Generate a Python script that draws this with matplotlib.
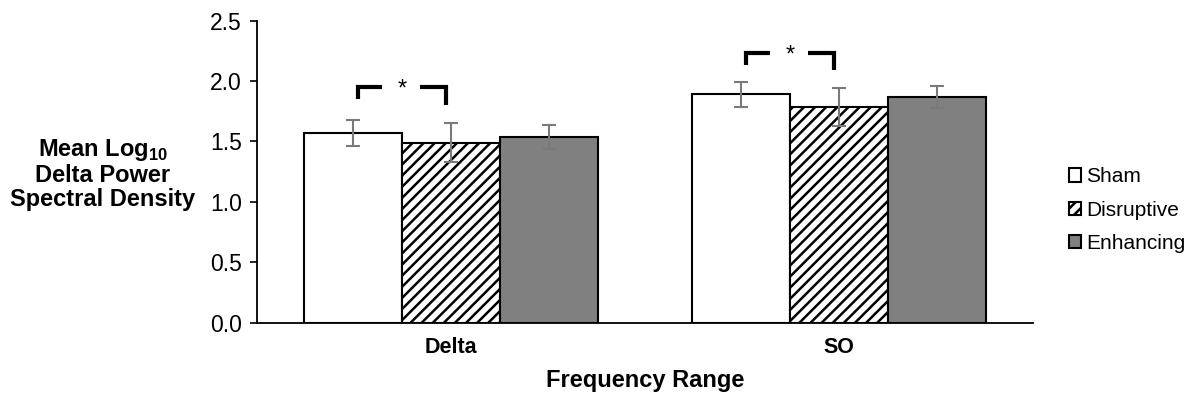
import numpy as np
import matplotlib.pyplot as plt

plt.rcParams['font.family'] = ['Liberation Sans', 'DejaVu Sans']
plt.rcParams['mathtext.fontset'] = 'custom'
plt.rcParams['mathtext.rm'] = 'Liberation Sans'
plt.rcParams['mathtext.bf'] = 'Liberation Sans:bold'
plt.rcParams['hatch.linewidth'] = 1.8
plt.rcParams['hatch.color'] = '#555555'

## data
categories = ['Delta', 'SO']
conditions = ['Sham', 'Disruptive', 'Enhancing']
sham = [1.57, 1.89]
disruptive = [1.49, 1.785]
enhancing = [1.54, 1.87]
sham_err = [0.11, 0.105]
disruptive_err = [0.16, 0.16]
enhancing_err = [0.10, 0.09]
# significance bracket tops (Sham vs Disruptive)
sig_top = [1.95, 2.235]

fig = plt.figure(figsize=(11.96, 4.0), dpi=100)
ax = fig.add_axes([257/1196, 1-322.7/400, (1033-257)/1196, (322.7-20.7)/400])

x = np.arange(len(categories)) + 0.5
w = 0.253
means = [sham, disruptive, enhancing]
errs = [sham_err, disruptive_err, enhancing_err]
faces = ['white', 'white', '#808080']
hatches = [None, '///', None]

for i in range(3):
	xi = x + (i-1)*w
	ax.bar(xi, means[i], w, color=faces[i], edgecolor='black', linewidth=1.5,
		hatch=hatches[i], label=conditions[i], zorder=2)
	ax.errorbar(xi, means[i], yerr=errs[i], fmt='none', ecolor='#7a7a7a',
		elinewidth=1.5, capsize=5, capthick=1.5, zorder=3)

## significance brackets
for j in range(len(categories)):
	xl = x[j] - w + 0.013
	xr = x[j] - 0.013
	top = sig_top[j]
	xs = (xl + xr) / 2
	ax.plot([xl, xl, xl+0.062], [top-0.10, top, top], color='black', lw=3,
		solid_joinstyle='miter', solid_capstyle='butt', clip_on=False)
	ax.plot([xr-0.067, xr, xr], [top, top, top-0.145], color='black', lw=3,
		solid_joinstyle='miter', solid_capstyle='butt', clip_on=False)
	ax.text(xs, top-0.07, '*', ha='center', va='baseline', fontsize=17)

ax.set_xlim(0, 2)
ax.set_ylim(0, 2.5)
ax.set_yticks(np.arange(0, 2.51, 0.5))
ax.set_yticklabels(['%.1f' % v for v in np.arange(0, 2.51, 0.5)], fontsize=16.5)
ax.set_xticks(x)
ax.set_xticklabels(categories, fontsize=15.5, fontweight='bold')
ax.tick_params(axis='x', length=0, pad=10)
ax.tick_params(axis='y', length=5, width=1.2, pad=6)
ax.spines['top'].set_visible(False)
ax.spines['right'].set_visible(False)
ax.spines['left'].set_linewidth(1.3)
ax.spines['bottom'].set_linewidth(1.3)
ax.set_xlabel('Frequency Range', fontsize=17, fontweight='bold', labelpad=8)

fig.text(103/1196, 1-174/400, 'Mean Log$_{\\mathbf{10}}$\nDelta Power\nSpectral Density',
	ha='center', va='center', fontsize=17, fontweight='bold', linespacing=1.05)

leg = fig.legend(loc='center left', bbox_to_anchor=(1050/1196, 1-210/400), frameon=False,
	fontsize=15, handlelength=0.6, handleheight=0.6, handletextpad=0.25, labelspacing=0.68)

plt.savefig('out.png', dpi=100)
